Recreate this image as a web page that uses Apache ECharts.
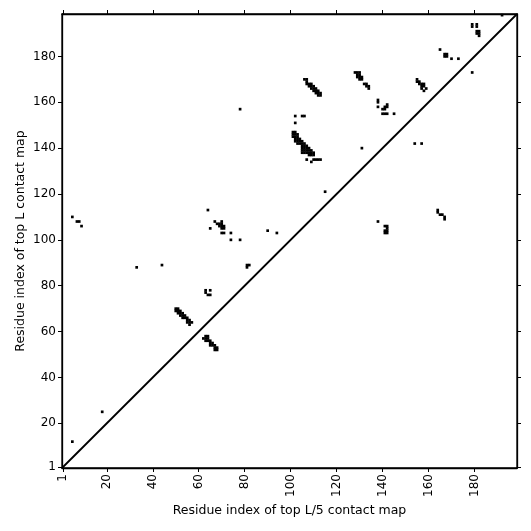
<!DOCTYPE html>
<html>
<head>
<meta charset="utf-8">
<script src="https://cdn.jsdelivr.net/npm/echarts@6/dist/echarts.min.js"></script>
<style>
  html, body { margin: 0; padding: 0; background: #fff; }
  #chart { width: 531px; height: 531px; }
</style>
</head>
<body>
<div id="chart"></div>
<script>
// residue index range (L = 198)
var axisMin = 0.5
var axisMax = 198.5
var tickValues = [1, 20, 40, 60, 80, 100, 120, 140, 160, 180]

// contacts below 120 (x residue < 100)
var contactsLow = [
  [5, 12], [18, 25], [5, 110], [7, 108], [8, 108], [9, 106],
  [33, 88], [44, 89],
  [50, 70], [51, 70], [50, 69], [51, 69], [52, 69], [51, 68], [52, 68], [53, 68],
  [52, 67], [53, 67], [54, 67], [53, 66], [54, 66], [55, 66], [55, 65], [56, 65],
  [55, 64], [56, 64], [57, 64], [56, 63],
  [63, 58], [64, 58], [62, 57], [63, 57], [64, 57], [63, 56], [64, 56], [65, 56],
  [65, 55], [66, 55], [65, 54], [66, 54], [67, 54], [67, 53], [68, 53], [68, 52], [67, 52],
  [63, 78], [65, 78], [63, 77], [64, 76], [65, 76],
  [81, 89], [82, 89], [81, 88],
  [64, 113], [67, 108], [65, 105],
  [68, 107], [69, 107], [70, 107], [70, 108], [69, 106], [70, 106], [71, 106], [70, 105], [71, 105],
  [70, 103], [71, 103], [74, 103], [74, 100], [78, 100],
  [78, 157], [90, 104], [94, 103]
]

// contacts for residues 100-135
var contactsMid = [
  [101, 147], [102, 147], [101, 146], [102, 146], [103, 146], [101, 145], [102, 145], [103, 145],
  [102, 144], [103, 144], [104, 144], [102, 143], [103, 143], [104, 143], [105, 143],
  [103, 142], [104, 142], [105, 142], [106, 142], [105, 141], [106, 141], [107, 141],
  [105, 140], [106, 140], [107, 140], [108, 140], [105, 139], [106, 139], [107, 139], [108, 139], [109, 139],
  [105, 138], [106, 138], [107, 138], [108, 138], [109, 138], [110, 138], [108, 137], [109, 137], [110, 137],
  [107, 135], [110, 135], [111, 135], [112, 135], [113, 135], [109, 134],
  [115, 121], [102, 154], [105, 154], [106, 154], [102, 151],
  [106, 170], [107, 170], [107, 169], [107, 168], [108, 168], [109, 168], [108, 167], [109, 167], [110, 167],
  [109, 166], [110, 166], [111, 166], [110, 165], [111, 165], [112, 165], [111, 164], [112, 164], [113, 164],
  [112, 163], [113, 163],
  [128, 173], [129, 173], [130, 173], [129, 172], [130, 172], [129, 171], [130, 171], [131, 171], [130, 170], [131, 170],
  [132, 168], [133, 168], [133, 167], [134, 167], [134, 166], [131, 140]
]

// contacts for residues above 135
var contactsHigh = [
  [138, 161], [138, 160], [138, 158], [140, 157], [141, 157], [141, 158], [142, 158], [142, 159],
  [140, 155], [141, 155], [142, 155], [145, 155],
  [138, 108], [142, 106], [141, 106], [142, 105], [142, 104], [141, 104], [141, 103], [142, 103],
  [154, 142], [157, 142],
  [155, 170], [155, 169], [156, 169], [156, 168], [157, 168], [158, 168], [157, 167], [158, 167],
  [157, 166], [159, 166], [158, 165],
  [164, 113], [164, 112], [165, 111], [166, 111], [167, 110], [167, 109],
  [165, 183], [167, 181], [168, 181], [167, 180], [168, 180], [170, 179], [173, 179], [179, 173],
  [179, 194], [179, 193], [181, 194], [181, 193], [181, 191], [182, 191], [182, 190], [182, 189], [181, 190],
  [192, 198]
]

var diagonal = [[axisMin, axisMin], [axisMax, axisMax]]

var contacts = contactsLow.concat(contactsMid, contactsHigh)

var chart = echarts.init(document.getElementById('chart'), null, { renderer: 'canvas' })

var font = 'DejaVu Sans'
function axis(name, isX) {
  return {
    type: 'value',
    min: axisMin,
    max: axisMax,
    name: name,
    nameLocation: 'middle',
    nameGap: isX ? 36 : 35,
    nameMoveOverlap: false,
    nameTextStyle: { fontFamily: font, fontSize: 12.5, color: '#000' },
    splitLine: { show: false },
    axisLine: { show: true, lineStyle: { color: '#000', width: 1.3 } },
    axisTick: { show: true, customValues: tickValues, length: 4, lineStyle: { color: '#000', width: 1 } },
    axisLabel: {
      customValues: tickValues,
      fontFamily: font,
      fontSize: 12,
      color: '#000',
      rotate: isX ? 90 : 0,
      margin: 6
    }
  }
}

// mirrored ticks on the top and right frame
function mirror(pos) {
  return {
    type: 'value',
    min: axisMin,
    max: axisMax,
    position: pos,
    splitLine: { show: false },
    axisLine: { show: true, lineStyle: { color: '#000', width: 1.3 } },
    axisTick: { show: true, customValues: tickValues, length: 4, lineStyle: { color: '#000', width: 1 } },
    axisLabel: { show: false }
  }
}

// one square per contact, one residue wide
function renderCell(params, api) {
  var x = api.value(0)
  var y = api.value(1)
  var p0 = api.coord([x - 0.5, y + 0.5])
  var p1 = api.coord([x + 0.5, y - 0.5])
  return {
    type: 'rect',
    shape: { x: p0[0] - 0.2, y: p0[1] - 0.2, width: p1[0] - p0[0] + 0.4, height: p1[1] - p0[1] + 0.4 },
    style: { fill: '#000' }
  }
}

var option = {
  animation: false,
  grid: {
    left: 62, right: 14, top: 14, bottom: 63,
    show: true, borderColor: '#000', borderWidth: 1.3, backgroundColor: '#fff'
  },
  xAxis: [axis('Residue index of top L/5 contact map', true), mirror('top')],
  yAxis: [axis('Residue index of top L contact map', false), mirror('right')],
  series: [
    {
      type: 'line',
      data: diagonal,
      symbol: 'none',
      lineStyle: { color: '#000', width: 1.8 },
      z: 3
    },
    {
      type: 'custom',
      data: contacts,
      renderItem: renderCell,
      encode: { x: 0, y: 1 },
      z: 4
    }
  ]
}

chart.setOption(option)
</script>
</body>
</html>
